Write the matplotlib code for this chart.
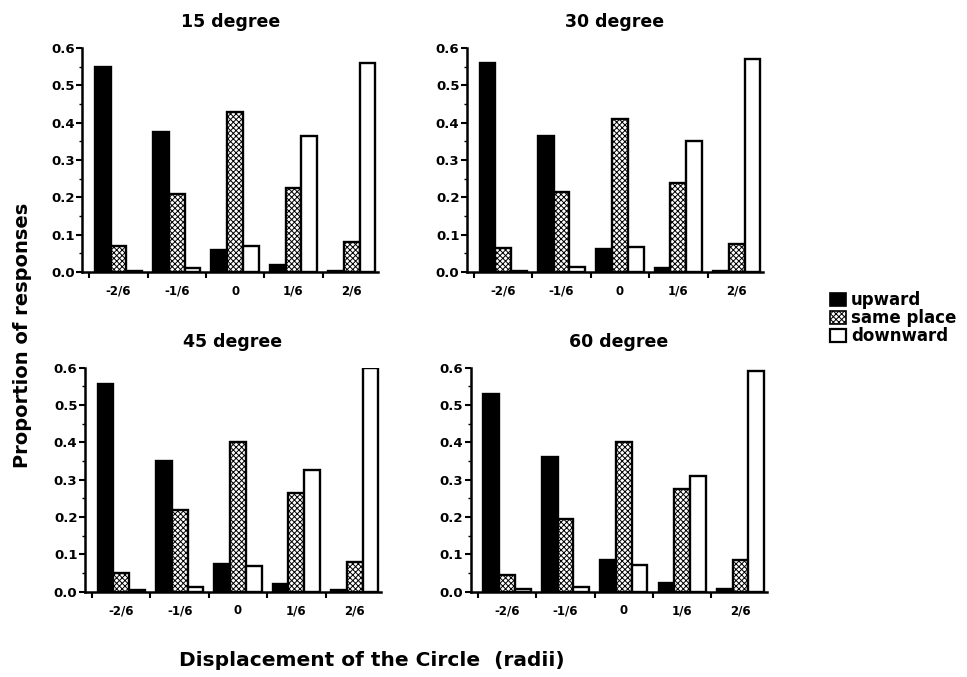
import matplotlib.pyplot as plt
import numpy as np
from matplotlib.patches import Patch
from matplotlib.ticker import MultipleLocator, FormatStrFormatter

plt.rcParams['font.family'] = ['DejaVu Sans']
plt.rcParams['font.weight'] = 'bold'
plt.rcParams['hatch.linewidth'] = 0.7

# Дані
displacements = ['-2/6', '-1/6', '0', '1/6', '2/6']
titles = ['15 degree', '30 degree', '45 degree', '60 degree']

upward_15 = [0.55, 0.375, 0.06, 0.02, 0.004]
same_15 = [0.07, 0.21, 0.43, 0.225, 0.08]
down_15 = [0.004, 0.012, 0.07, 0.365, 0.56]

upward_30 = [0.56, 0.365, 0.063, 0.01, 0.004]
same_30 = [0.065, 0.215, 0.41, 0.24, 0.075]
down_30 = [0.004, 0.015, 0.067, 0.35, 0.57]

upward_45 = [0.555, 0.35, 0.075, 0.02, 0.004]
same_45 = [0.05, 0.22, 0.40, 0.265, 0.08]
down_45 = [0.004, 0.012, 0.07, 0.325, 0.60]

upward_60 = [0.53, 0.36, 0.085, 0.022, 0.006]
same_60 = [0.045, 0.195, 0.40, 0.275, 0.085]
down_60 = [0.006, 0.012, 0.072, 0.31, 0.59]

panels = [
    (upward_15, same_15, down_15),
    (upward_30, same_30, down_30),
    (upward_45, same_45, down_45),
    (upward_60, same_60, down_60),
]

# Розташування осей (у частках фігури)
positions = [
    [0.085, 0.598, 0.306, 0.331],
    [0.483, 0.598, 0.306, 0.331],
    [0.088, 0.126, 0.306, 0.331],
    [0.487, 0.126, 0.306, 0.331],
]

fig = plt.figure(figsize=(9.67, 6.77), dpi=100)
x = np.arange(len(displacements))
w = 0.27
lw = 1.7

for pos, title, (up, same, down) in zip(positions, titles, panels):
    ax = fig.add_axes(pos)
    ax.bar(x - w, up, w, color='black', edgecolor='black', linewidth=lw)
    ax.bar(x, same, w, color='white', edgecolor='black', linewidth=lw, hatch='xxxxxx')
    ax.bar(x + w, down, w, color='white', edgecolor='black', linewidth=lw)

    ax.set_xlim(-0.62, 4.45)
    ax.set_ylim(0, 0.6)
    ax.set_title(title, fontsize=12.5, fontweight='bold', pad=15)

    ax.set_xticks(x)
    ax.set_xticklabels(displacements, fontsize=8.5)
    ax.set_xticks(np.arange(-0.5, 4.0, 1.0), minor=True)
    ax.tick_params(axis='x', which='major', length=0, pad=9)
    ax.tick_params(axis='x', which='minor', length=4, width=1.5, direction='out')

    ax.yaxis.set_major_locator(MultipleLocator(0.1))
    ax.yaxis.set_minor_locator(MultipleLocator(0.05))
    ax.yaxis.set_major_formatter(FormatStrFormatter('%.1f'))
    ax.tick_params(axis='y', which='major', length=4, width=1.5, labelsize=9.5, pad=1.5)
    ax.tick_params(axis='y', which='minor', length=2, width=1)

    for side in ['top', 'right']:
        ax.spines[side].set_visible(False)
    for side in ['left', 'bottom']:
        ax.spines[side].set_linewidth(1.8)

fig.text(0.023, 0.505, 'Proportion of responses', rotation=90, va='center', ha='center',
         fontsize=14, fontweight='bold')
fig.text(0.385, 0.025, 'Displacement of the Circle  (radii)', ha='center', va='center',
         fontsize=14.5, fontweight='bold')

handles = [
    Patch(facecolor='black', edgecolor='black', linewidth=1.2),
    Patch(facecolor='white', edgecolor='black', linewidth=1.2, hatch='xxxxxx'),
    Patch(facecolor='white', edgecolor='black', linewidth=1.6),
]
fig.legend(handles, ['upward', 'same place', 'downward'], loc='upper left',
           bbox_to_anchor=(0.85, 0.582), frameon=False, fontsize=12,
           handlelength=0.95, handleheight=0.8, handletextpad=0.3, labelspacing=0.0,
           borderpad=0)

plt.savefig('out.png', dpi=100)
